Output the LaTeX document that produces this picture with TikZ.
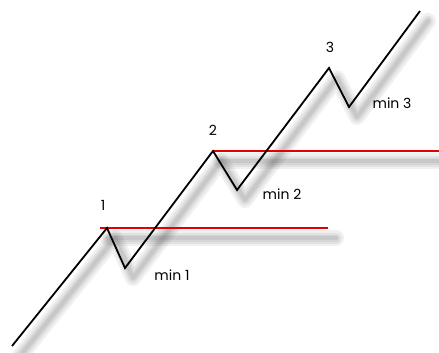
\documentclass[tikz,border=0pt]{standalone}
\usepackage{fontspec}
\setmainfont{Poppins}
\usepackage{tikz}
\usetikzlibrary{positioning, calc}

\begin{document}
\begin{tikzpicture}[x=1pt, y=-1pt,
    wave/.style={line width=1.8pt, black, line join=miter},
    level/.style={line width=1.3pt, red!90!black},
    shade/.style={line width=#1, black, opacity=0.06, line cap=round, line join=round},
    lbl/.style={font=\fontsize{14}{16}\selectfont, inner sep=0pt}
]
\useasboundingbox (0,0) rectangle (439,353);

% Points
\coordinate (s) at (12,346);
\coordinate (p1) at (107,228);
\coordinate (m1) at (125,268);
\coordinate (p2) at (213,151);
\coordinate (m2) at (237,190);
\coordinate (p3) at (329,68);
\coordinate (m3) at (349,107);
\coordinate (e) at (420,11);
\coordinate (r1a) at (100,228);
\coordinate (r1b) at (328,228);
\coordinate (r2a) at (213,151);
\coordinate (r2b) at (439,151);

% Shadows
\begin{scope}[transform canvas={shift={(8,10)}}]
  \foreach \w in {16pt,11pt,7pt,4pt} {
    \draw[shade=\w] (s) -- (p1) -- (m1) -- (p2) -- (m2) -- (p3) -- (m3) -- (e);
    \draw[shade=\w] (r1a) -- (r1b);
    \draw[shade=\w] (r2a) -- (r2b);
  }
\end{scope}

% Lines
\draw[level] (r1a) -- (r1b);
\draw[level] (r2a) -- (r2b);
\draw[wave] (s) -- (p1) -- (m1) -- (p2) -- (m2) -- (p3) -- (m3) -- (e);

% Labels
\node[lbl] (t1) at (103,205) {1};
\node[lbl] (b1) at (172,275) {min 1};
\node[lbl] (t2) at (213,130) {2};
\node[lbl] (b2) at (282,194) {min 2};
\node[lbl] (t3) at (330,47) {3};
\node[lbl] (b3) at (392,103) {min 3};

\end{tikzpicture}
\end{document}
